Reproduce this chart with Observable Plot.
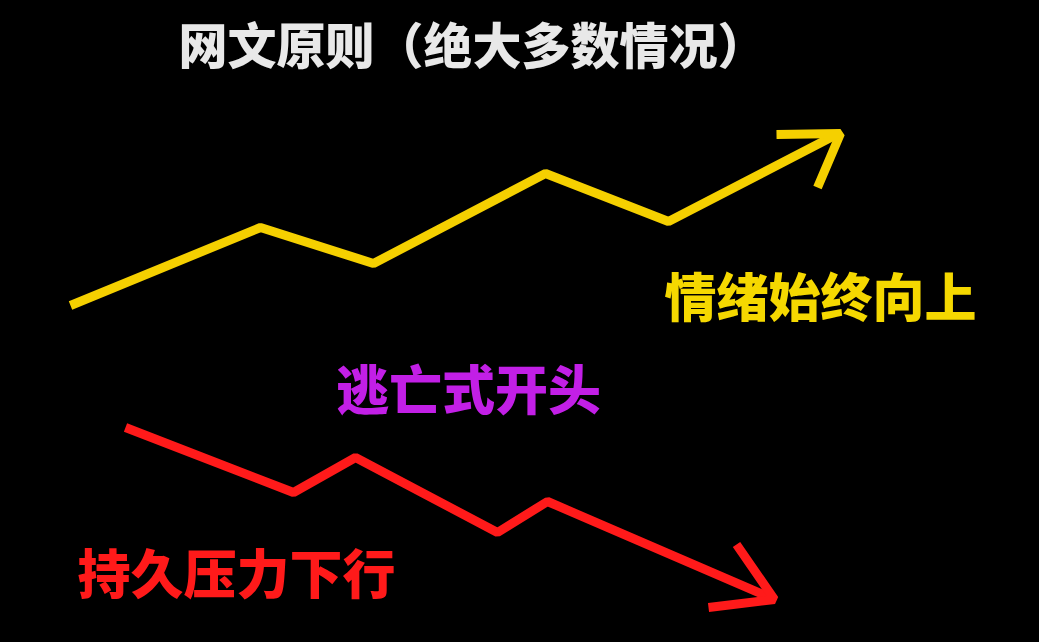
<!DOCTYPE html>
<html>
<head>
<meta charset="utf-8">
<script src="https://cdn.jsdelivr.net/npm/d3@7"></script>
<script src="https://cdn.jsdelivr.net/npm/@observablehq/plot@0.6"></script>
<style>
  html, body { margin: 0; padding: 0; background: #000; }
</style>
</head>
<body>
<div id="chart"></div>
<script>
// trend lines (screen-like coordinates)
const upX = [70, 260, 373, 545, 668, 838]
const upY = [305, 227, 263, 173, 221, 133]
const upHeadX = [776, 840, 817]
const upHeadY = [134, 133, 187]

const downX = [125, 293, 355, 497, 547, 772]
const downY = [427, 492, 457, 532, 501, 598]
const downHeadX = [736, 774, 708]
const downHeadY = [544, 599, 607]

const labels = ["网文原则（绝大多数情况）", "情绪始终向上", "逃亡式开头", "持久压力下行"]
const labelX = [472, 820, 468, 236]
const labelY = [48, 300, 393, 577]
const labelColor = ["#e8e8e8", "#f5d800", "#c21fe6", "#ff1a1a"]
const labelSize = [49, 52, 53, 53]

const pts = (xs, ys) => xs.map((x, i) => ({x, y: ys[i]}))
const texts = labels.map((t, i) => ({t, x: labelX[i], y: labelY[i], c: labelColor[i], s: labelSize[i]}))

const lineStyle = {x: "x", y: "y", strokeWidth: 9, strokeLinejoin: "miter", strokeLinecap: "butt"}

const chart = Plot.plot({
  width: 1039,
  height: 642,
  margin: 0,
  style: {background: "#000"},
  x: {domain: [0, 1039], range: [0, 1039], axis: null},
  y: {domain: [0, 642], range: [0, 642], axis: null},
  marks: [
    Plot.line(pts(upX, upY), {...lineStyle, stroke: "#f5d000"}),
    Plot.line(pts(upHeadX, upHeadY), {...lineStyle, stroke: "#f5d000"}),
    Plot.line(pts(downX, downY), {...lineStyle, stroke: "#ff1a1a"}),
    Plot.line(pts(downHeadX, downHeadY), {...lineStyle, stroke: "#ff1a1a"}),
    ...texts.map(d => Plot.text([d], {
      x: "x", y: "y", text: "t", fill: d.c, fontSize: d.s, fontWeight: 900,
      fontFamily: "Noto Sans CJK SC", textAnchor: "middle"
    }))
  ]
})

d3.select('#chart').append(() => chart)
</script>
</body>
</html>
